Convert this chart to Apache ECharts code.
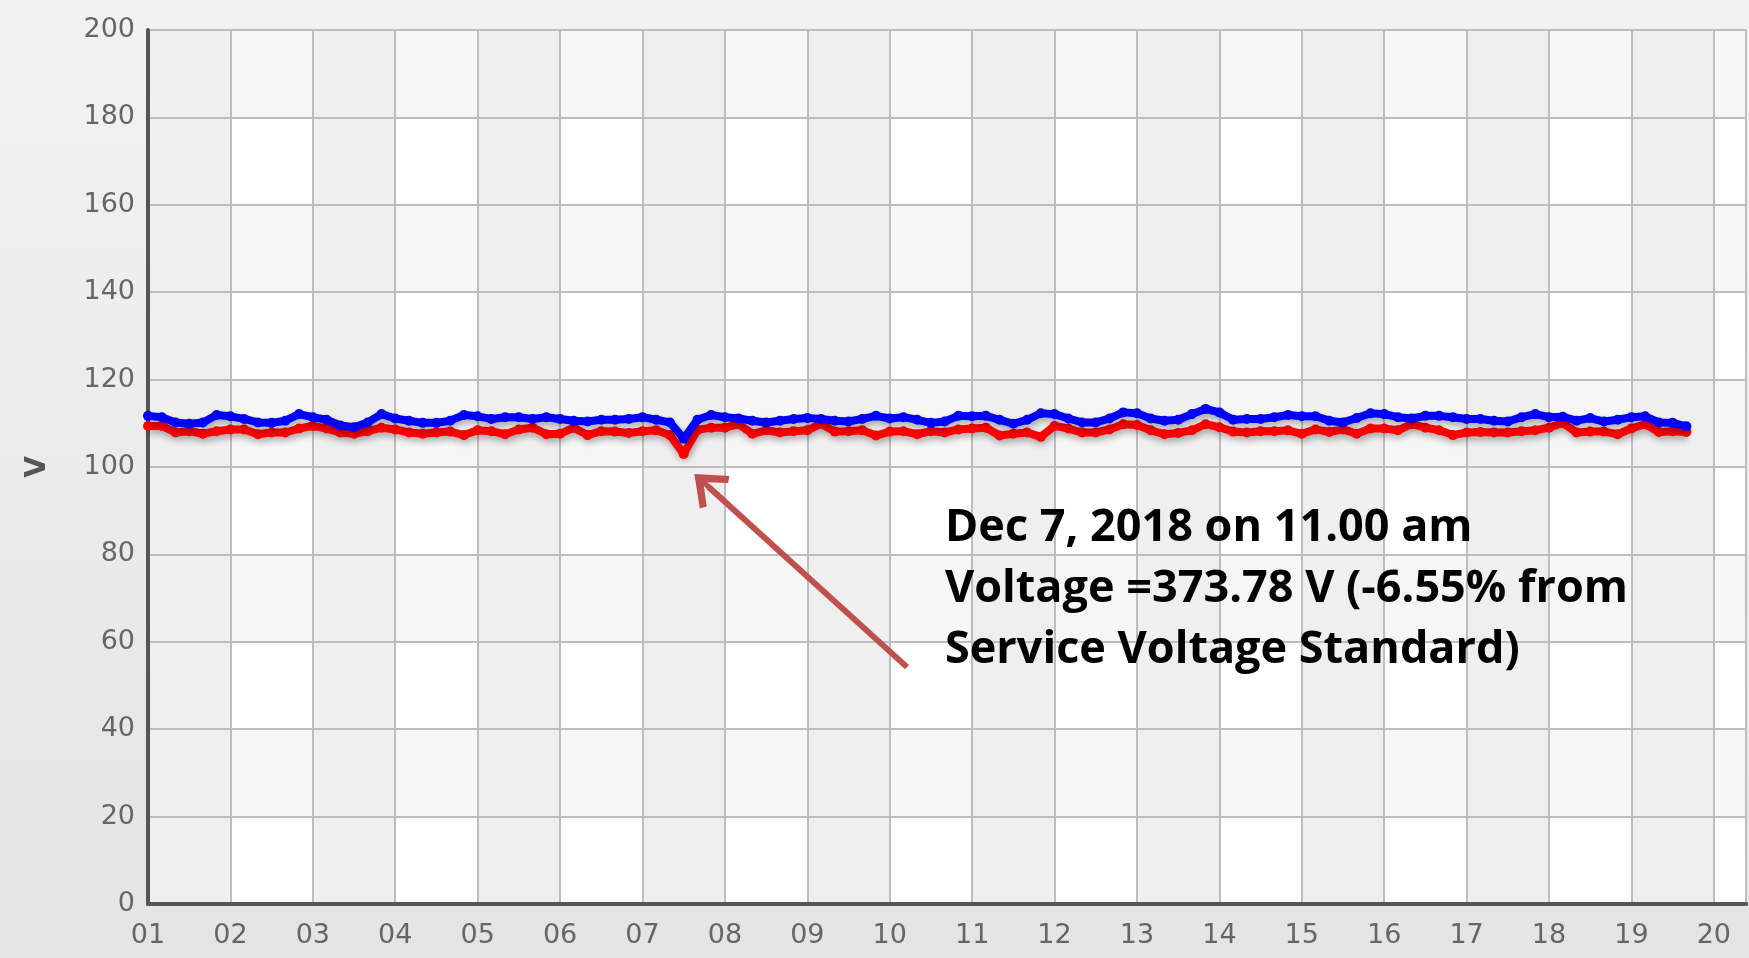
<!doctype html>
<html>
  <head>
    <meta charset="utf-8">
    <title>Voltage</title>
    <script src="https://cdn.jsdelivr.net/npm/echarts/dist/echarts.min.js"></script>
    <style>
      html, body { margin: 0; padding: 0; background: #ececec; }
      #main { width: 1749px; height: 958px; }
    </style>
  </head>
  <body>
    <div id="main"></div>
  </body>
  <script>
   // day-of-month tick labels on the x axis
   var dayTicks = ['01','02','03','04','05','06','07','08','09','10',
                   '11','12','13','14','15','16','17','18','19','20'];
   // readings every 4 hours, starting Dec 1 00:00
   var stepHours = 4;
   var blueVolts = [
     111.7,111.4,110.2,109.9,110.2,111.9,111.6,111.0,110.2,110.1,110.6,112.1,111.4,110.8,109.5,109.1,
     110.2,112.1,111.1,110.6,110.1,110.1,110.6,111.9,111.6,111.0,111.4,111.4,111.0,111.4,111.0,110.6,
     110.4,110.8,110.8,111.0,111.4,110.8,110.2,106.5,110.8,111.9,111.4,111.1,110.6,110.2,110.6,111.0,
     111.2,111.0,110.6,110.4,111.0,111.7,111.1,111.4,110.8,110.1,110.4,111.7,111.6,111.7,110.8,109.9,
     110.8,112.3,112.1,111.1,110.2,110.2,111.1,112.5,112.3,111.1,110.6,110.8,112.1,113.3,112.5,110.8,
     111.0,111.0,111.4,111.9,111.6,111.6,110.6,110.2,111.2,112.3,112.1,111.4,111.1,111.7,111.7,111.4,
     111.0,111.0,110.6,110.4,111.4,112.1,111.4,111.5,110.6,111.2,110.4,110.8,111.4,111.6,110.2,110.1,
     109.3
   ];
   var redVolts = [
     109.4,109.4,107.9,108.2,107.6,108.2,108.6,108.6,107.5,107.9,107.9,108.8,109.4,108.8,107.9,107.6,
     108.2,109.0,108.6,107.9,107.6,107.9,108.1,107.3,108.4,108.2,107.5,108.6,109.0,107.5,107.6,109.0,
     107.3,108.2,108.1,107.8,108.2,108.4,107.3,103.0,108.5,109.0,109.0,109.8,107.6,108.4,107.9,108.2,
     108.4,109.9,108.1,108.2,108.4,107.2,108.1,108.2,107.5,108.2,107.9,108.6,108.8,109.0,107.2,107.6,
     107.9,106.9,109.4,108.8,107.9,107.9,108.6,109.8,109.6,108.4,107.5,107.8,108.4,109.8,109.1,108.1,
     107.9,108.2,108.2,108.4,107.6,108.6,108.0,108.6,107.6,108.8,108.8,108.4,109.8,109.0,108.4,107.3,
     107.9,108.0,107.9,107.9,108.2,108.4,109.0,110.1,107.9,108.1,108.1,107.5,108.8,109.8,108.0,108.2,
     108.0
   ];
   var noteLines = ['Dec 7, 2018 on 11.00 am', 'Voltage =373.78 V (-6.55% from', 'Service Voltage Standard)'];

   function toPairs(vals) {
     return vals.map(function (v, i) { return [1 + i * stepHours / 24, v]; });
   }

   var chart = echarts.init(document.getElementById('main'));
   var labelFont = { color: '#666', fontFamily: 'DejaVu Sans', fontSize: 27 };
   var xMax = 20.39;
   var shadow = { shadowColor: 'rgba(0,0,0,0.3)', shadowBlur: 6, shadowOffsetX: 1, shadowOffsetY: 4 };

   var option = {
     backgroundColor: {
       type: 'linear', x: 0, y: 0, x2: 0, y2: 1,
       colorStops: [{ offset: 0, color: '#f2f2f2' }, { offset: 1, color: '#e4e4e4' }]
     },
     animation: false,
     grid: { left: 148, right: -12, top: 30, bottom: 54, show: true, backgroundColor: '#fff', borderWidth: 0 },
     xAxis: [
       {
         type: 'value', min: 1, max: xMax, interval: 1, z: 1,
         axisLine: { show: true, onZero: false, lineStyle: { color: '#555', width: 4 } },
         axisTick: { show: false },
         axisLabel: Object.assign({ margin: 18, formatter: function (v) {
           return Number.isInteger(v) ? (dayTicks[v - 1] || '') : '';
         } }, labelFont),
         splitLine: { show: true, lineStyle: { color: '#bdbdbd', width: 2 } },
         splitArea: { show: true, areaStyle: { color: ['#efefef', 'rgba(255,255,255,0)'] } }
       },
       {
         type: 'value', position: 'top', min: 1, max: xMax, interval: 1, z: 2,
         axisLine: { show: true, lineStyle: { color: '#555', width: 4 } },
         axisTick: { show: false }, axisLabel: { show: false }, splitLine: { show: false }
       }
     ],
     yAxis: [
       {
         type: 'value', min: 0, max: 200, interval: 20, z: 2,
         name: 'V', nameLocation: 'middle', nameRotate: 90, nameGap: 96,
         nameTextStyle: { color: '#555', fontFamily: 'DejaVu Sans', fontSize: 28, fontWeight: 'bold' },
         axisLine: { show: true, lineStyle: { color: '#555', width: 4 } },
         axisTick: { show: false },
         axisLabel: Object.assign({ margin: 13 }, labelFont),
         splitLine: { show: true, lineStyle: { color: '#bdbdbd', width: 2 } }
       },
       {
         type: 'value', min: 0, max: 200, interval: 20, z: 0, position: 'left',
         axisLine: { show: false }, axisTick: { show: false }, axisLabel: { show: false },
         splitLine: { show: false },
         splitArea: { show: true, areaStyle: { color: ['rgba(255,255,255,0)', '#f6f6f6'] } }
       }
     ],
     series: [
       {
         name: 'red', type: 'line', z: 3, data: toPairs(redVolts),
         symbol: 'circle', symbolSize: 10, showSymbol: true, showAllSymbol: true,
         itemStyle: { color: '#ff0000' },
         lineStyle: Object.assign({ color: '#ff0000', width: 8 }, shadow),
         markLine: {
           silent: true, animation: false,
           symbol: ['none', 'path://M50,0 L100,72 L86,82 L56,40 L56,100 L44,100 L44,40 L14,82 L0,72 Z'],
           symbolSize: [44, 38],
           label: { show: false },
           lineStyle: { color: '#c0504d', width: 6, type: 'solid', shadowBlur: 0, shadowOffsetX: 0, shadowOffsetY: 0 },
           data: [[{ coord: [10.21, 54.2] }, { coord: [7.80, 95.5] }]]
         }
       },
       {
         name: 'blue', type: 'line', z: 4, data: toPairs(blueVolts),
         symbol: 'circle', symbolSize: 10, showSymbol: true, showAllSymbol: true,
         itemStyle: { color: '#0000ff' },
         lineStyle: Object.assign({ color: '#0000ff', width: 8 }, shadow)
       }
     ],
     graphic: [
       {
         type: 'text', left: 945, top: 498, z: 10,
         style: { text: noteLines.join('\n'), fill: '#000', font: 'bold 45px "Open Sans"', lineHeight: 61 }
       }
     ]
   };
   chart.setOption(option);
  </script>
</html>
